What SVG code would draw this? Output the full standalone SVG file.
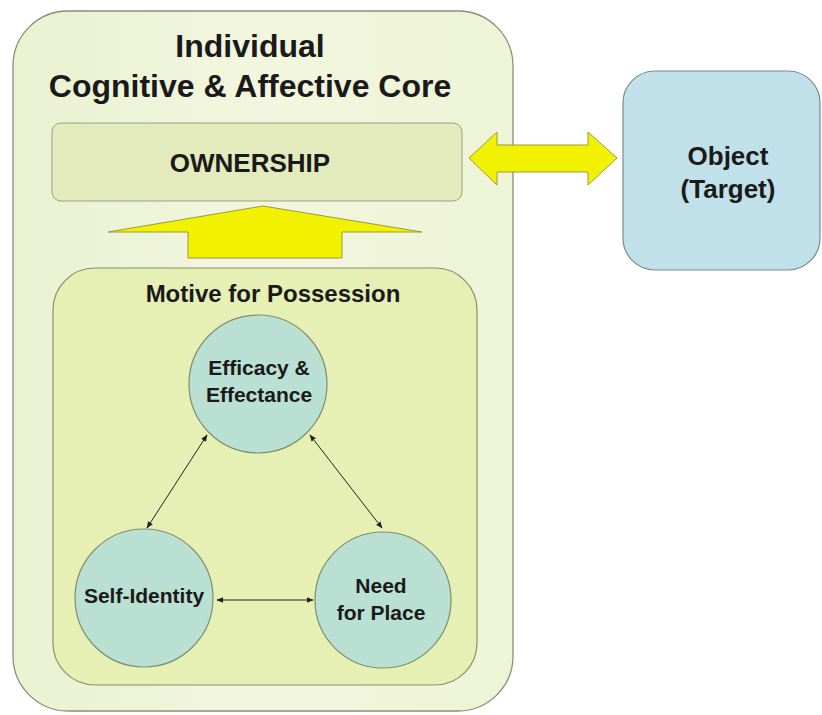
<svg xmlns="http://www.w3.org/2000/svg" width="822" height="715" viewBox="0 0 822 715">
<defs>
<style>
text{font-family:"Liberation Sans",Arial,sans-serif;font-weight:bold;fill:#1a1a1a;text-anchor:middle}
.circ{fill:#b9e0d2;stroke:#7f8f6a;stroke-width:1.2}
.conn{stroke:#222;stroke-width:1;fill:none;marker-start:url(#ah);marker-end:url(#ah)}
.yarrow{fill:#f2f200;stroke:#9a9a40;stroke-width:1}
</style>
<marker id="ah" viewBox="0 0 10 10" refX="9" refY="5" markerWidth="7" markerHeight="7" orient="auto-start-reverse" markerUnits="userSpaceOnUse">
<path d="M0,1 L10,5 L0,9 z" fill="#222"/>
</marker>
<linearGradient id="outerg" x1="0" y1="0" x2="1" y2="0">
<stop offset="0" stop-color="#eaf2d2"/>
<stop offset="0.5" stop-color="#f2f6de"/>
<stop offset="1" stop-color="#eef4d6"/>
</linearGradient>
</defs>
<rect width="822" height="715" fill="#ffffff"/>

<g id="core">
<rect x="13" y="11" width="500" height="700" rx="55" ry="55" fill="url(#outerg)" stroke="#8a8f7a" stroke-width="1.3"/>
<text x="250" y="57" font-size="32">Individual</text>
<text x="250" y="97" font-size="32">Cognitive &amp; Affective Core</text>
</g>

<g id="ownership">
<rect x="52" y="123" width="410" height="78" rx="9" ry="9" fill="#e3ebbd" stroke="#9aa080" stroke-width="1"/>
<text x="250" y="172" font-size="26">OWNERSHIP</text>
</g>

<g id="object">
<rect x="623" y="71" width="197" height="199" rx="32" ry="32" fill="#c0e1e9" stroke="#7f8a8a" stroke-width="1.2"/>
<text x="728" y="165" font-size="26">Object</text>
<text x="728" y="198" font-size="26">(Target)</text>
</g>

<g id="motive">
<rect x="53" y="268" width="424" height="417" rx="42" ry="42" fill="#e6efb4" stroke="#8a8f6a" stroke-width="1.2"/>
<text x="273" y="302" font-size="24">Motive for Possession</text>
</g>

<g id="efficacy">
<circle class="circ" cx="258" cy="384" r="69"/>
<text x="259" y="375" font-size="21">Efficacy &amp;</text>
<text x="259" y="402" font-size="21">Effectance</text>
</g>

<g id="self-identity">
<circle class="circ" cx="144" cy="598" r="69"/>
<text x="144" y="603" font-size="21">Self-Identity</text>
</g>

<g id="need-for-place">
<circle class="circ" cx="383" cy="600" r="68"/>
<text x="381" y="593" font-size="21">Need</text>
<text x="381" y="620" font-size="21">for Place</text>
</g>

<g id="connectors">
<path class="yarrow" d="M263,206 L422,232 L342,232 L342,258 L188,258 L188,232 L108,232 Z"/>
<path class="yarrow" d="M469,158 L497,132 L497,145 L588,145 L588,132 L617,158 L588,185 L588,172 L497,172 L497,185 Z"/>
<line class="conn" x1="207" y1="435" x2="147" y2="528"/>
<line class="conn" x1="310" y1="435" x2="382" y2="528"/>
<line class="conn" x1="217" y1="600" x2="313" y2="600"/>
</g>
</svg>
